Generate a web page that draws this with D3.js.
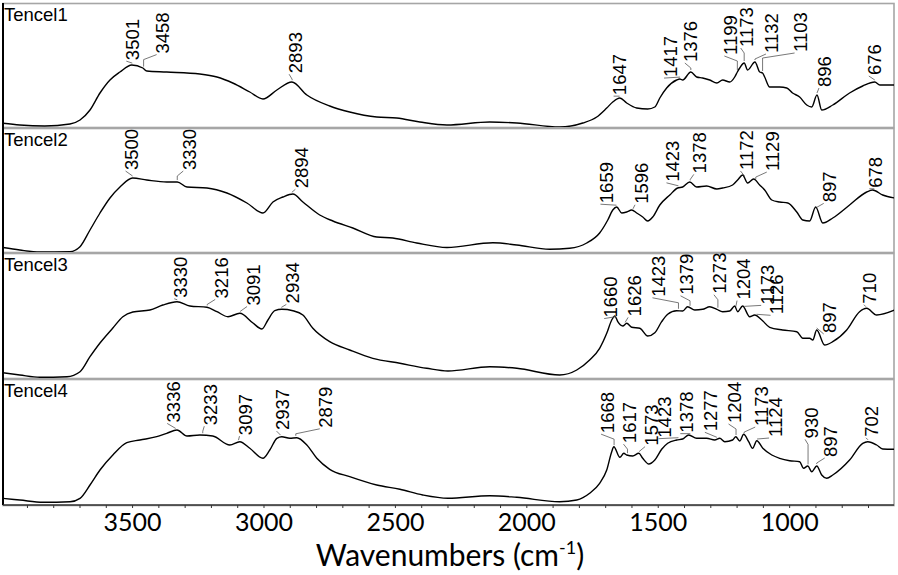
<!DOCTYPE html>
<html><head><meta charset="utf-8">
<script src="https://cdn.jsdelivr.net/npm/d3@7"></script>
<style>body{margin:0;background:#fff}svg{display:block}</style>
</head><body><svg id="c" width="898" height="575"></svg>
<script>
// ---------------- DATA ----------------
const panelNames = ["Tencel1", "Tencel2", "Tencel3", "Tencel4"];

const tencel1Wn  = [3993,3929,3834,3738,3700,3662,3624,3586,3548,3503,3461,3446,3370,3244,3179,3119,3054,3004,2951,2894,2837,2750,2674,2571,2495,2407,2304,2141,2038,1875,1787,1734,1696,1673,1646,1620,1582,1540,1513,1494,1468,1430,1418,1407,1376,1354,1331,1304,1277,1255,1228,1209,1199,1190,1173,1160,1132,1114,1103,1095,1076,1038,1011,989,962,935,916,896,878,836,772,722,676,657,600];
const tencel1Abs = [3.7,2,1,3,7,17,34,47,55,62,59,56,55,53,50,44,35,28,37,45,32,21,15,10,9,5,2,5,4,0,4,10,19,25,29,24,19,18,20,29,39,47,48,47,55,50,49,47,44,47,45,50,55,59,64,57,65,55,54,50,40,40,39,34,30,22,20,32,17,22,34,41,45,42,42];

const tencel2Wn  = [3993,3929,3853,3738,3700,3662,3624,3586,3548,3500,3446,3370,3330,3293,3217,3141,3065,3004,2966,2928,2890,2852,2788,2738,2662,2571,2510,2419,2304,2129,2038,1913,1837,1772,1723,1692,1673,1658,1639,1620,1601,1582,1559,1540,1521,1494,1456,1426,1407,1380,1354,1316,1277,1255,1217,1198,1179,1160,1137,1114,1095,1068,1038,1007,973,950,924,901,874,836,772,707,684,646,600];
const tencel2Abs = [4.5,2,0,0.3,5.3,22,39,54,65,74,72,70,70,65,64,59,49,39,50,55,58,50,37,31,24,15,14,9,4.5,9.3,7,2.7,3.7,9,19,32,42,45,39,40,42,39,35,31,35,47,57,64,65,70,65,66,63,64,67,72,77,69,73,67,62,52,50,49,40,32,31,45,29,34,47,60,62,57,54];

const tencel3Wn  = [3995,3929,3853,3750,3700,3662,3624,3575,3537,3499,3434,3385,3331,3282,3217,3179,3137,3092,3042,3008,2985,2959,2932,2890,2852,2814,2750,2674,2586,2483,2381,2300,2141,2038,1875,1810,1761,1723,1696,1677,1665,1654,1635,1620,1601,1570,1540,1513,1487,1464,1430,1407,1388,1361,1331,1304,1277,1255,1228,1209,1198,1179,1152,1133,1106,1076,1027,973,950,924,912,897,867,836,783,734,707,669,600];
const tencel3Abs = [5.3,3,0.7,1.3,6.3,21.3,35,50,61.3,66,68,73,76.3,72,70.7,66.3,61.3,64.7,55,49,58,67.3,68.7,67.3,63,49.7,36.3,28,19.7,14.7,9.7,7,11.3,9.7,3,8,18,29.7,44.7,58,62,56.3,52,54.7,50.7,49.7,42,45.3,56.3,63.7,67.3,67,71.3,68,68.7,71.3,68.7,66.3,67,72,66.3,72,61.3,63,58,50.7,48,46.3,39.7,39.7,38,48,33,36.3,48,66.3,69.7,63,68];

const tencel4Wn  = [3995,3929,3841,3738,3700,3662,3624,3575,3522,3472,3408,3370,3331,3293,3244,3195,3130,3092,3054,3004,2978,2951,2932,2902,2875,2837,2799,2750,2674,2571,2483,2396,2300,2141,2038,1875,1810,1761,1723,1696,1677,1669,1646,1631,1620,1597,1574,1559,1536,1513,1487,1464,1430,1407,1384,1354,1316,1285,1266,1247,1217,1205,1190,1175,1156,1141,1125,1102,1068,1038,1000,962,947,931,916,897,878,859,836,772,722,703,669,646,600];
const tencel4Abs = [6.7,5,2.7,3.3,6.7,20,35,50,62.3,65,68.3,71.7,75,69,70,69,60,63.3,56.7,46.7,55,66.7,68.3,66.7,67.3,60,46.7,35.7,28.3,20,15.7,10,6.7,9.3,7.7,3.3,5,11.7,21.7,35,53.3,58.3,47.7,51.7,50,49,51.7,46.7,41,45,55.7,61.7,65,66,70,66.7,66.7,65,66.7,63.3,65,68.3,64,70.7,63.3,56.7,64.3,56.7,50,46.7,44.3,43.3,36.7,39,33.3,39,30,26.7,30,45,61.7,63.3,60,56,55.7];

const tencel1Peaks = [3501,3458,2893,1647,1417,1376,1199,1173,1132,1103,896,676];
const tencel2Peaks = [3500,3330,2894,1659,1596,1423,1378,1172,1129,897,678];
const tencel3Peaks = [3330,3216,3091,2934,1660,1626,1423,1379,1273,1204,1173,1126,897,710];
const tencel4Peaks = [3336,3233,3097,2937,2879,1668,1617,1573,1423,1378,1277,1204,1173,1124,930,897,702];

const xTickValues = [3500,3000,2500,2000,1500,1000];
const xMinorTicks = d3.range(3900, 600, -100);
const xDomain = [3993, 603];

// ---------------- LAYOUT (px) ----------------
const panelTop = [3,128,253,379];
const panelBottom = [127,252,378,505];
const plotLeft = 3, plotRight = 894;
// label nudges [dx, dy] from peak point
const labelNudges = [
  [[0,-5],[19,-15],[3,-9],[0,-3],[-10,-2],[0,-10],[-7,-17],[2.5,-16],[17,-9],[38,-21],[8,-8],[0,-7]],
  [[-1,-8],[12,-12],[9.5,-6],[-10,-4],[8,-7],[-6,-6],[9.5,-9],[2,-8],[17,-10],[13,-7],[1,-3]],
  [[3,-4],[14,-9],[13,-8],[11,-6],[-6,-1],[9,-8],[-20,-14],[-3.5,-13],[2,-16],[7,-9],[23,-4],[20,-2],[13,3],[4,-5]],
  [[-2.5,-8],[7.5,-10],[7,-7],[2,-7],[30,-10],[-7,-14],[2,-12],[12,-8],[-14,-2],[-4,-3],[-6,-8],[-1.5,-14],[17,-9],[18,-4],[3,-28],[14,-9],[4,-5]]
];

const series = [
  {wn: tencel1Wn, ab: tencel1Abs, peaks: tencel1Peaks},
  {wn: tencel2Wn, ab: tencel2Abs, peaks: tencel2Peaks},
  {wn: tencel3Wn, ab: tencel3Abs, peaks: tencel3Peaks},
  {wn: tencel4Wn, ab: tencel4Abs, peaks: tencel4Peaks}
];

const svg = d3.select("#c");
const x = d3.scaleLinear().domain(xDomain).range([plotLeft, plotRight]);

const defs = svg.append("defs");
const annFont = "'Liberation Sans', Arial, sans-serif";

function valueAt(wn, ab, w) {
  for (let i = 0; i < wn.length - 1; i++) {
    if (wn[i] >= w && wn[i+1] <= w) {
      const t = (wn[i] - w) / (wn[i] - wn[i+1]);
      return ab[i] + t * (ab[i+1] - ab[i]);
    }
  }
  return ab[ab.length-1];
}

series.forEach((s, i) => {
  const top = panelTop[i], bot = panelBottom[i];
  const y = d3.scaleLinear().domain([0, 124]).range([bot, bot - 124]);
  const g = svg.append("g");

  defs.append("clipPath").attr("id", "clip" + i)
    .append("rect").attr("x", plotLeft).attr("y", top).attr("width", plotRight - plotLeft).attr("height", bot - top);

  // frame
  g.append("rect").attr("x", plotLeft).attr("y", top + 0.5)
    .attr("width", plotRight - plotLeft).attr("height", bot - top)
    .attr("fill", "none").attr("stroke", "#a6a6a6").attr("stroke-width", 1.6);

  const pts = s.wn.map((w, k) => [w, s.ab[k]]);
  const line = d3.line().x(d => x(d[0])).y(d => y(d[1])).curve(d3.curveMonotoneX);
  g.append("path").datum(pts).attr("d", line)
    .attr("clip-path", "url(#clip" + i + ")")
    .attr("fill", "none").attr("stroke", "#000").attr("stroke-width", 1.4)
    .attr("stroke-linejoin", "round");

  // panel name
  g.append("text").attr("x", plotLeft + 1).attr("y", top + 18)
    .attr("font-family", annFont).attr("font-size", 18.5).attr("fill", "#000")
    .text(panelNames[i]);

  // peak annotations
  s.peaks.forEach((p, k) => {
    const px = x(p), py = y(valueAt(s.wn, s.ab, p));
    const [dx, dy] = labelNudges[i][k];
    const cx = px + dx, by = py + dy;
    const midY = Math.min(by + 6, py - 2);
    g.append("path")
      .attr("d", `M${cx - 6},${by + 1}L${px},${midY}L${px},${py - 2}`)
      .attr("fill", "none").attr("stroke", "#555").attr("stroke-width", 0.8);
    g.append("text")
      .attr("transform", `translate(${cx + 6.5},${by}) rotate(-90)`)
      .attr("font-family", annFont).attr("font-size", 18.5).attr("fill", "#000")
      .text(p);
  });
});

// left border
svg.append("line").attr("x1", plotLeft).attr("x2", plotLeft)
  .attr("y1", panelTop[0]).attr("y2", panelBottom[3])
  .attr("stroke", "#000").attr("stroke-width", 2);

// x axis
const axisG = svg.append("g").attr("transform", `translate(0,${panelBottom[3]})`);
axisG.append("line").attr("x1", plotLeft).attr("x2", plotRight).attr("stroke", "#333").attr("stroke-width", 1.4);
axisG.selectAll(".mt").data(xMinorTicks).join("line")
  .attr("x1", d => x(d)).attr("x2", d => x(d)).attr("y1", 0).attr("y2", 3)
  .attr("stroke", "#333").attr("stroke-width", 1);
axisG.selectAll(".tl").data(xTickValues).join("text")
  .attr("x", d => x(d)).attr("y", 26)
  .attr("text-anchor", "middle")
  .attr("font-family", "Lato, 'Open Sans', sans-serif").attr("font-size", 25).attr("fill", "#000")
  .text(d => d);

const title = svg.append("text").attr("x", 450).attr("y", 566)
  .attr("text-anchor", "middle")
  .attr("font-family", "Lato, 'Open Sans', sans-serif").attr("font-size", 30).attr("fill", "#000");
title.append("tspan").text("Wavenumbers (cm");
title.append("tspan").attr("font-size", 18).attr("dy", -12).text("-1");
title.append("tspan").attr("dy", 12).text(")");
</script></body></html>
